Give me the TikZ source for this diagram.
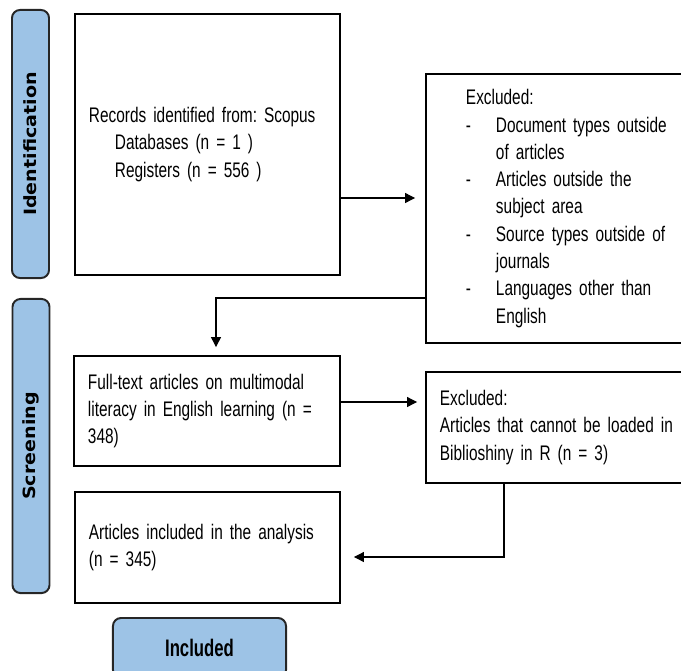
\documentclass[tikz,border=0pt]{standalone}
\usepackage{fontspec}
\setmainfont{Liberation Sans}[FakeStretch=0.73]
\newfontfamily\tabfont{DejaVu Sans}[FakeStretch=1.13]
\newfontfamily\inclfont{Liberation Sans}[FakeStretch=0.7]
\usetikzlibrary{arrows.meta}
\definecolor{tabblue}{RGB}{157,195,230}
\frenchspacing
\newcommand\boxfont{\fontsize{15}{19.4}\selectfont\spaceskip=0.8\fontdimen2\font plus 0.5\fontdimen3\font minus 0.5\fontdimen4\font\relax}
\tikzset{
  box/.style 2 args={draw, line width=1.3pt, align=left, inner xsep=0.35cm,
    text width=#1, minimum height=#2, font=\boxfont},
  stage/.style={draw=black!85, line width=1.4pt, fill=tabblue, rounded corners=0.2cm,
    font=\tabfont\bfseries\fontsize{12}{14}\selectfont},
  arr/.style={line width=0.8pt, -{Triangle[length=0.25cm,width=0.25cm]}}
}

\begin{document}
\begin{tikzpicture}[x=0.025cm, y=-0.025cm]
      \useasboundingbox (0,0) rectangle (681,670);

      % stages
      \node[stage, rotate=90, minimum width=6.7cm, minimum height=0.925cm] (ident) at (30.5,144) {Identification};
      \node[stage, rotate=90, minimum width=7.35cm, minimum height=0.925cm] (screen) at (31,446) {Screening};
      \node[stage, minimum width=4.325cm, minimum height=1.5cm,
        font=\inclfont\bfseries\fontsize{17}{19}\selectfont] (incl) at (199.5,648) {Included};

      % boxes
      \node[box={5.925cm}{6.525cm}] (records) at (207.5,144.5) {Records identified from: Scopus\\
        \hspace*{0.65cm}Databases (n = 1 )\\
        \hspace*{0.65cm}Registers (n = 556 )};
      \node[box={6.65cm}{6.725cm}] (excl1) at (573,208.5) {\hspace*{0.65cm}Excluded:\\
        \hspace*{0.65cm}\makebox[0.75cm][l]{-}Document types outside\\
        \hspace*{1.4cm}of articles\\
        \hspace*{0.65cm}\makebox[0.75cm][l]{-}Articles outside the\\
        \hspace*{1.4cm}subject area\\
        \hspace*{0.65cm}\makebox[0.75cm][l]{-}Source types outside of\\
        \hspace*{1.4cm}journals\\
        \hspace*{0.65cm}\makebox[0.75cm][l]{-}Languages other than\\
        \hspace*{1.4cm}English};
      \node[box={5.95cm}{2.75cm}] (full) at (207,411) {Full-text articles on multimodal\\
        literacy in English learning (n =\\
        348)};
      \node[box={6.65cm}{2.775cm}] (excl2) at (573,427.5) {Excluded:\\
        Articles that cannot be loaded in\\
        Biblioshiny in R (n = 3)};
      \node[box={5.925cm}{2.775cm}] (analysis) at (207.5,547.5) {Articles included in the analysis\\
        (n = 345)};

      \coordinate (c1) at (0,198);
      \coordinate (c2) at (0,298);
      \coordinate (c3) at (0,402);
      \coordinate (c4) at (504,557);

      \draw[arr, shorten >=0.25cm] (records.east |- c1) -- (excl1.west |- c1);
      \draw[arr, shorten >=0.2cm] (excl1.west |- c2) -| ([xshift=0.225cm]full.north);
      \draw[arr, shorten >=0.2cm] (full.east |- c3) -- (excl2.west |- c3);
      \draw[arr, shorten >=0.325cm] (excl2.south -| c4) |- (analysis.east |- c4);
    \end{tikzpicture}
\end{document}
